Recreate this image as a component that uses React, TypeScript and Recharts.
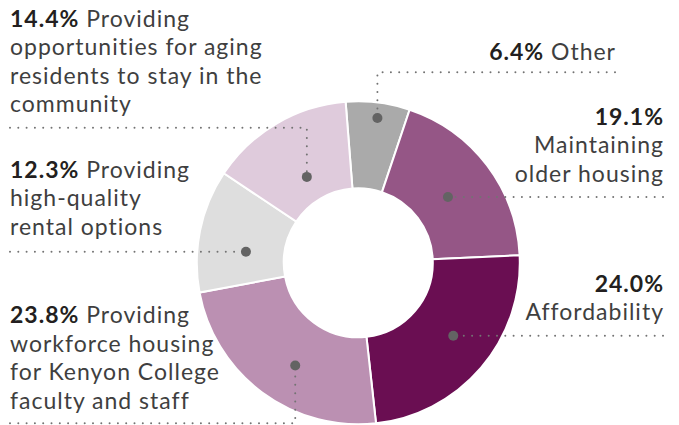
import React from 'react';
import { PieChart, Pie, Cell } from 'recharts';

// ---- data (clockwise from the top) ----
const categories = [
  'Other',
  'Maintaining older housing',
  'Affordability',
  'Providing workforce housing for Kenyon College faculty and staff',
  'Providing high-quality rental options',
  'Providing opportunities for aging residents to stay in the community',
];
const shares = [6.4, 19.1, 24.0, 23.8, 12.3, 14.4];
const percentLabels = ['6.4%', '19.1%', '24.0%', '23.8%', '12.3%', '14.4%'];
// label text split into lines; the percent is prepended (bold) to the first line
const labelLines: string[][] = [
  [' Other'],
  ['', 'Maintaining', 'older housing'],
  ['', 'Affordability'],
  [' Providing', 'workforce housing', 'for Kenyon College', 'faculty and staff'],
  [' Providing', 'high-quality', 'rental options'],
  [' Providing', 'opportunities for aging', 'residents to stay in the', 'community'],
];

// ---- styles / layout ----
const colors = ['#aaaaaa', '#955686', '#6a0e52', '#bb90b2', '#dedede', '#dfcbdc'];
const FONT = 'Lato, "Open Sans", sans-serif';
const FONT_SIZE = 23;
const LINE_H = 28.4;
const LETTER_SPACING = 1;

type Leader =
  | { kind: 'h'; endX: number }
  | { kind: 'v'; turnY: number; endX: number };

type LabelLayout = {
  anchor: 'start' | 'end';
  x: number;
  baseline: number;
  angleShift: number; // degrees clockwise from slice middle
  radiusFrac: number; // 0 = inner edge, 1 = outer edge
  leader: Leader;
};

const layouts: LabelLayout[] = [
  { anchor: 'end', x: 616, baseline: 60, angleShift: 0.5, radiusFrac: 0.83, leader: { kind: 'v', turnY: 72.3, endX: 615 } },
  { anchor: 'end', x: 664, baseline: 125, angleShift: 0.8, radiusFrac: 0.42, leader: { kind: 'h', endX: 663 } },
  { anchor: 'end', x: 664, baseline: 291.7, angleShift: -3, radiusFrac: 0.52, leader: { kind: 'h', endX: 663 } },
  { anchor: 'start', x: 10, baseline: 323.3, angleShift: -5, radiusFrac: 0.53, leader: { kind: 'v', turnY: 423.3, endX: 10 } },
  { anchor: 'start', x: 10, baseline: 177.7, angleShift: -5.9, radiusFrac: 0.44, leader: { kind: 'h', endX: 10 } },
  { anchor: 'start', x: 10, baseline: 26.7, angleShift: -0.5, radiusFrac: 0.29, leader: { kind: 'v', turnY: 127.7, endX: 10 } },
];

const pieData = categories.map((name, i) => ({ name, value: shares[i] }));

const RAD = Math.PI / 180;
const INNER = 75.5;
const OUTER = 160.5;

const renderLabel = (props: any) => {
  const { cx, cy, midAngle, index } = props;
  const lay = layouts[index];
  const angle = midAngle - lay.angleShift;
  const r = INNER + (OUTER - INNER) * lay.radiusFrac;
  const dx = cx + r * Math.cos(-angle * RAD);
  const dy = cy + r * Math.sin(-angle * RAD);
  let d: string;
  if (lay.leader.kind === 'h') {
    d = `M${lay.leader.endX},${dy} L${dx},${dy}`;
  } else {
    d = `M${lay.leader.endX},${lay.leader.turnY} L${dx},${lay.leader.turnY} L${dx},${dy}`;
  }
  const lines = labelLines[index];
  return (
    <g key={`lab-${index}`}>
      <path d={d} fill="none" stroke="#737373" strokeWidth={2} strokeDasharray="0 8.3" strokeLinecap="round" />
      <circle cx={dx} cy={dy} r={5} fill="#636363" />
      <text
        x={lay.x}
        y={lay.baseline}
        textAnchor={lay.anchor}
        fontFamily={FONT}
        fontSize={FONT_SIZE}
        letterSpacing={LETTER_SPACING}
        fill="#3f3f3f"
      >
        {lines.map((ln, li) => (
          <tspan key={li} x={lay.x} y={lay.baseline + li * LINE_H}>
            {li === 0 ? (
              <>
                <tspan fontWeight={700} fill="#231f20">{percentLabels[index]}</tspan>
                {ln}
              </>
            ) : (
              ln
            )}
          </tspan>
        ))}
      </text>
    </g>
  );
};

export default function App() {
  return (
    <div style={{ position: 'absolute', left: 0, top: 0, width: 679, height: 425, background: '#fff' }}>
      <PieChart width={679} height={425} margin={{ top: 0, right: 0, bottom: 0, left: 0 }}>
        <Pie
          data={pieData}
          dataKey="value"
          nameKey="name"
          cx={358.3}
          cy={262.8}
          innerRadius={INNER - 1}
          outerRadius={OUTER + 1}
          startAngle={94.5}
          endAngle={-265.5}
          stroke="#ffffff"
          strokeWidth={2}
          label={renderLabel}
          labelLine={false}
          isAnimationActive={false}
        >
          {pieData.map((_, i) => (
            <Cell key={i} fill={colors[i]} />
          ))}
        </Pie>
      </PieChart>
    </div>
  );
}
